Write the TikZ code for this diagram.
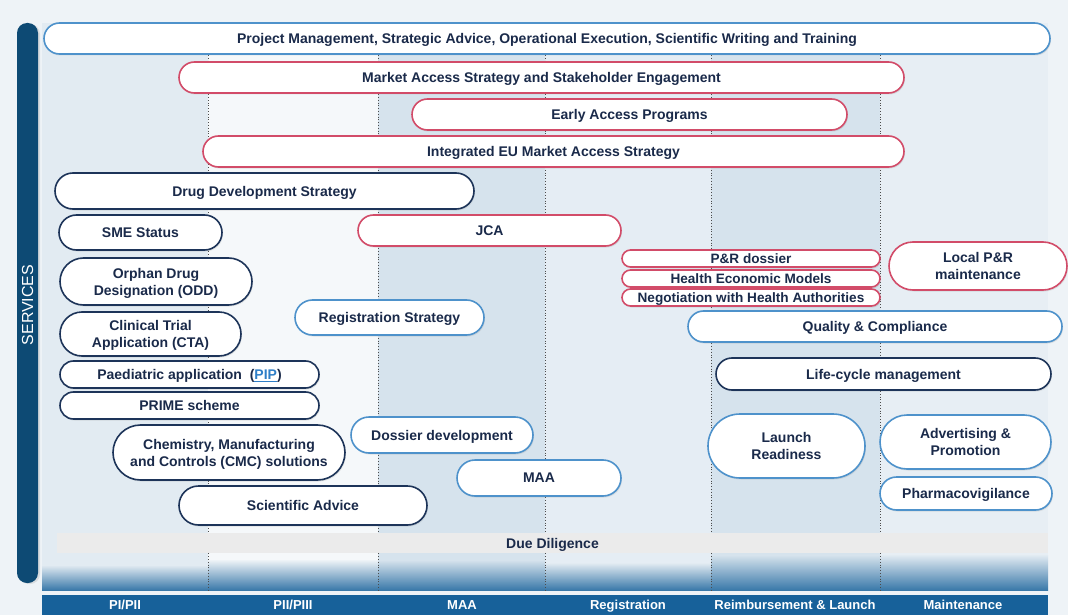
\documentclass[tikz,border=0pt]{standalone}
\usepackage{fontspec}
\setmainfont{Liberation Sans}
\usetikzlibrary{shapes.misc,shadows}
\definecolor{txt}{HTML}{1A2A4A}
\definecolor{navyline}{HTML}{1D3459}
\definecolor{blueline}{HTML}{4E92CB}
\definecolor{pinkline}{HTML}{D24C69}
\definecolor{barnavy}{HTML}{0D4A74}
\definecolor{phasebar}{HTML}{17619A}
\definecolor{bgpale}{HTML}{EEF3F7}
\definecolor{colA}{HTML}{E2EBF2}
\definecolor{colB}{HTML}{D6E3ED}
\definecolor{linkblue}{HTML}{2F7FC8}

\begin{document}
\begin{tikzpicture}[x=1pt, y=-1pt,
	pill/.style={rounded rectangle, fill=white, line width=1.6pt, inner sep=0pt, align=center, text depth=0pt, text=txt, font=\bfseries\fontsize{14}{17}\selectfont, drop shadow={opacity=0.18, shadow xshift=1pt, shadow yshift=-1.5pt}},
	bluepill/.style={pill, draw=blueline},
	navypill/.style={pill, draw=navyline},
	pinkpill/.style={pill, draw=pinkline},
	smallpill/.style={pinkpill, minimum width=258, minimum height=17, font=\bfseries\fontsize{13.6}{15}\selectfont},
	phase/.style={text=white, text depth=0pt, font=\bfseries\fontsize{13}{15}\selectfont}]
	\useasboundingbox (0,0) rectangle (1068,615);
	\fill[bgpale] (0,0) rectangle (1068,615);
	
	% fondo de las columnas
	\fill[colA] (42,23) rectangle (208,590);
	\fill[bgpale!60!white] (208,23) rectangle (378,590);
	\fill[colB] (378,23) rectangle (545,590);
	\fill[colA!70!bgpale] (545,23) rectangle (711,590);
	\fill[colB] (711,23) rectangle (880,590);
	\fill[colA!60!bgpale] (880,23) rectangle (1048,590);
	\shade[top color=colA, bottom color=phasebar!85!white] (42,565) rectangle (208,590);
	\shade[top color=bgpale, bottom color=phasebar!85!white] (208,560) rectangle (378,590);
	\shade[top color=colB, bottom color=phasebar!85!white] (378,560) rectangle (545,590);
	\shade[top color=colA, bottom color=phasebar!85!white] (545,563) rectangle (711,590);
	\shade[top color=colB, bottom color=phasebar!85!white] (711,555) rectangle (880,590);
	\shade[top color=colA, bottom color=phasebar!85!white] (880,555) rectangle (1048,590);
	\foreach \x in {208,378,545,711,880}
		\draw[dotted, line width=0.8pt, black!70] (\x,55) -- (\x,590);
	
	% barra lateral
	\fill[barnavy, rounded corners=10pt, drop shadow={opacity=0.2, shadow xshift=2pt, shadow yshift=-1pt}] (17,23) rectangle (38,583);
	\node[rotate=90, text=white, font=\fontsize{16}{18}\selectfont] (services) at (27.5,305) {SERVICES};
	
	% fases
	\fill[phasebar] (42,595) rectangle (1048,615);
	\node[phase] (ph1) at (125,605) {PI/PII};
	\node[phase] (ph2) at (293,605) {PII/PIII};
	\node[phase] (ph3) at (462,605) {MAA};
	\node[phase] (ph4) at (628,605) {Registration};
	\node[phase] (ph5) at (795,605) {Reimbursement \& Launch};
	\node[phase] (ph6) at (963,605) {Maintenance};
	
	% servicios
	\node[bluepill, minimum width=1006, minimum height=31] (pm) at (547,38.5) {Project Management, Strategic Advice, Operational Execution, Scientific Writing and Training};
	\node[pinkpill, minimum width=725, minimum height=31] (mas) at (541.5,77.5) {Market Access Strategy and Stakeholder Engagement};
	\node[pinkpill, minimum width=435, minimum height=31] (eap) at (629.5,114.5) {Early Access Programs};
	\node[pinkpill, minimum width=701, minimum height=31] (ieu) at (553.5,151.5) {Integrated EU Market Access Strategy};
	\node[navypill, minimum width=419, minimum height=36] (dds) at (264.5,191) {Drug Development Strategy};
	\node[navypill, minimum width=163, minimum height=35] (sme) at (140.5,232.5) {SME Status};
	\node[pinkpill, minimum width=263, minimum height=31] (jca) at (489.5,230.5) {JCA};
	\node[navypill, minimum width=192, minimum height=47] (odd) at (156,281.5) {Orphan Drug\\Designation (ODD)};
	\node[navypill, minimum width=181, minimum height=44] (cta) at (150.5,334) {Clinical Trial\\Application (CTA)};
	\node[bluepill, minimum width=189, minimum height=35] (regs) at (389.5,317.5) {Registration Strategy};
	\node[smallpill] (prd) at (751,258.5) {P\&R dossier};
	\node[smallpill] (hem) at (751,278.5) {Health Economic Models};
	\node[smallpill] (nha) at (751,297.5) {Negotiation with Health Authorities};
	\node[pinkpill, minimum width=178, minimum height=48] (lpr) at (978,266) {Local P\&R\\maintenance};
	\node[bluepill, minimum width=374, minimum height=31] (qc) at (875,326.5) {Quality \& Compliance};
	\node[navypill, minimum width=259, minimum height=27] (pip) at (189.5,374.5) {Paediatric application\ \ (\textcolor{linkblue}{\underline{PIP}})};
	\node[navypill, minimum width=259, minimum height=27] (prime) at (189.5,405.5) {PRIME scheme};
	\node[navypill, minimum width=335, minimum height=32] (lcm) at (883.5,374) {Life-cycle management};
	\node[navypill, minimum width=232, minimum height=55] (cmc) at (229,452.5) {Chemistry, Manufacturing\\and Controls (CMC) solutions};
	\node[bluepill, minimum width=182, minimum height=36] (dos) at (442,435) {Dossier development};
	\node[bluepill, minimum width=157, minimum height=64] (lr) at (786.5,446) {Launch\\Readiness};
	\node[bluepill, minimum width=171, minimum height=54] (adv) at (965.5,442) {Advertising \&\\Promotion};
	\node[bluepill, minimum width=164, minimum height=36] (maa) at (539,478) {MAA};
	\node[bluepill, minimum width=172, minimum height=33] (pv) at (966,493.5) {Pharmacovigilance};
	\node[navypill, minimum width=248, minimum height=39] (sa) at (303,505.5) {Scientific Advice};
	
	% due diligence
	\node[fill=black!8, minimum width=991, minimum height=20, inner sep=0pt, text depth=0pt, text=txt, font=\bfseries\fontsize{14}{15}\selectfont] (dd) at (552.5,543) {Due Diligence};
\end{tikzpicture}
\end{document}
